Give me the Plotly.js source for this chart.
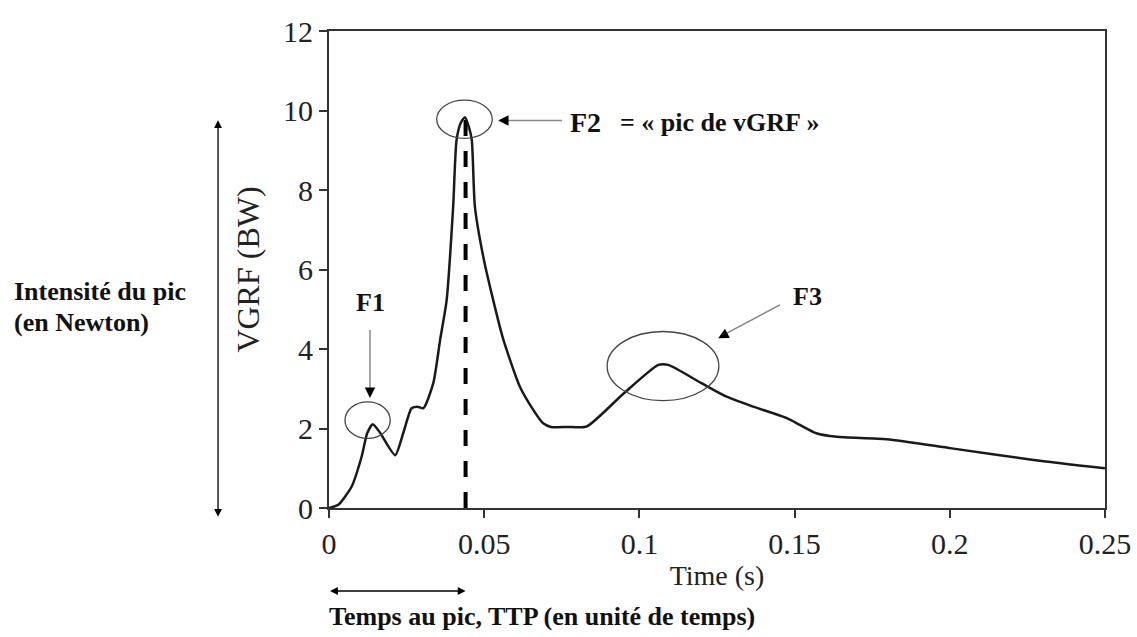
<!DOCTYPE html>
<html>
<head>
<meta charset="utf-8">
<script src="https://cdn.plot.ly/plotly-3.0.1.min.js"></script>
<style>
  html, body { margin: 0; padding: 0; background: #fff; }
  #chart { width: 1137px; height: 637px; }
</style>
</head>
<body>
<div id="chart"></div>
<script>
// ---- data ----
const time = [0, 0.003, 0.0073, 0.0105, 0.0123, 0.0141, 0.0164, 0.0213, 0.0239, 0.0266, 0.0285, 0.0304, 0.0336,
  0.0358, 0.0379, 0.040, 0.0411, 0.0425, 0.0438, 0.045, 0.046, 0.047, 0.0497, 0.0529, 0.0562, 0.0615, 0.0658,
  0.069, 0.0715, 0.077, 0.083, 0.0945, 0.1061, 0.1093, 0.12, 0.1281, 0.1367, 0.1475, 0.1517, 0.157, 0.1636,
  0.1797, 0.2006, 0.227, 0.25];
const vgrf = [0, 0.08, 0.54, 1.29, 1.88, 2.11, 1.9, 1.33, 1.88, 2.51, 2.55, 2.51, 3.14,
  4.23, 5.23, 7.58, 9.26, 9.7, 9.83, 9.6, 9.26, 7.58, 6.32, 5.23, 4.23, 3.05, 2.47,
  2.13, 2.04, 2.04, 2.05, 2.85, 3.6, 3.6, 3.14, 2.8, 2.55, 2.26, 2.09, 1.88, 1.79,
  1.73, 1.5, 1.21, 1.0];
const peakTime = [0.044, 0.044];
const peakLine = [0, 9.8];
const xTickVals = [0, 0.05, 0.1, 0.15, 0.2, 0.25];
const xTickText = ['0', '0.05', '0.1', '0.15', '0.2', '0.25'];
const yTickVals = [0, 2, 4, 6, 8, 10, 12];
const yTickText = ['0', '2', '4', '6', '8', '10', '12'];

const SERIF = '"Liberation Serif", "Times New Roman", serif';

const traces = [
  { x: peakTime, y: peakLine, type: 'scatter', mode: 'lines',
    line: { color: '#000', width: 4, dash: '16px,15px' }, hoverinfo: 'skip', showlegend: false },
  { x: time, y: vgrf, type: 'scatter', mode: 'lines',
    line: { color: '#1a1a1a', width: 2.5, shape: 'spline', smoothing: 0.6 }, showlegend: false }
];

const axisCommon = {
  showgrid: false, zeroline: false, showline: true, mirror: true,
  linecolor: '#333', linewidth: 2, ticks: 'outside', ticklen: 8, tickwidth: 2, tickcolor: '#333',
  tickfont: { family: SERIF, size: 30, color: '#222' }
};

const ell = (x0, x1, y0, y1) => ({ type: 'circle', xref: 'x', yref: 'y', x0, x1, y0, y1,
  line: { color: '#444', width: 1.3 } });
const seg = (x0, y0, x1, y1) => ({ type: 'line', xref: 'x', yref: 'y', x0, y0, x1, y1,
  line: { color: '#888', width: 1.5 } });

const head = (x, y, ax, ay) => ({ x, y, xref: 'x', yref: 'y', ax, ay, text: '', showarrow: true,
  arrowhead: 2, arrowsize: 1.6, arrowwidth: 1.3, arrowcolor: '#000' });

const label = (x, y, text, size, xanchor) => ({ x, y, xref: 'x', yref: 'y', text, showarrow: false,
  xanchor: xanchor || 'center', yanchor: 'middle', font: { family: SERIF, size, color: '#111', weight: 'bold' } });

const layout = {
  width: 1137, height: 637,
  margin: { l: 329, r: 32, t: 31, b: 129, pad: 0 },
  paper_bgcolor: '#fff', plot_bgcolor: '#fff',
  showlegend: false,
  xaxis: Object.assign({}, axisCommon, {
    range: [0, 0.25], tickmode: 'array', tickvals: xTickVals, ticktext: xTickText,
    title: { text: 'Time (s)', font: { family: SERIF, size: 28, color: '#222' }, standoff: 6 }
  }),
  yaxis: Object.assign({}, axisCommon, {
    range: [0, 12], tickmode: 'array', tickvals: yTickVals, ticktext: yTickText,
    title: { text: 'VGRF (BW)', font: { family: SERIF, size: 32, color: '#222' }, standoff: 14 }
  }),
  shapes: [
    ell(0.00515, 0.01972, 1.75, 2.67),
    ell(0.0347, 0.0526, 9.30, 10.26),
    ell(0.0896, 0.1256, 2.70, 4.44),
    seg(0.0132, 4.48, 0.0132, 2.9),
    seg(0.0751, 9.75, 0.0555, 9.75),
    seg(0.1453, 5.11, 0.1265, 4.33)
  ],
  annotations: [
    head(0.0132, 2.77, 0, -10),
    head(0.0545, 9.75, 10, 0),
    head(0.1254, 4.27, 8.8, -4.7),
    label(0.0134, 5.18, 'F1', 26),
    label(0.0770, 9.71, 'F2', 28, 'left'),
    label(0.0931, 9.71, '= « pic de vGRF »', 26, 'left'),
    label(0.1542, 5.31, 'F3', 26),
    // left vertical double arrow
    { xref: 'paper', yref: 'paper', x: -0.143, y: 0.813, ax: 0, ay: 398, text: '', showarrow: true,
      arrowside: 'end+start', arrowhead: 2, arrowsize: 1.2, arrowwidth: 1.3, arrowcolor: '#000' },
    { xref: 'paper', yref: 'paper', x: -0.409, y: 0.4535, text: 'Intensité du pic', showarrow: false,
      xanchor: 'left', yanchor: 'middle', font: { family: SERIF, size: 26, color: '#111', weight: 'bold' } },
    { xref: 'paper', yref: 'paper', x: -0.409, y: 0.388, text: '(en Newton)', showarrow: false,
      xanchor: 'left', yanchor: 'middle', font: { family: SERIF, size: 26, color: '#111', weight: 'bold' } },
    // bottom horizontal double arrow
    { xref: 'x', yref: 'paper', x: 0.044, y: -0.174, ax: -137, ay: 0, text: '', showarrow: true,
      arrowside: 'end+start', arrowhead: 2, arrowsize: 1.2, arrowwidth: 1.3, arrowcolor: '#000' },
    { xref: 'paper', yref: 'paper', x: -0.003, y: -0.2285, text: 'Temps au pic, TTP (en unité de temps)', showarrow: false,
      xanchor: 'left', yanchor: 'middle', font: { family: SERIF, size: 26, color: '#111', weight: 'bold' } }
  ]
};

Plotly.newPlot('chart', traces, layout, { displayModeBar: false, staticPlot: true });
</script>
</body>
</html>
